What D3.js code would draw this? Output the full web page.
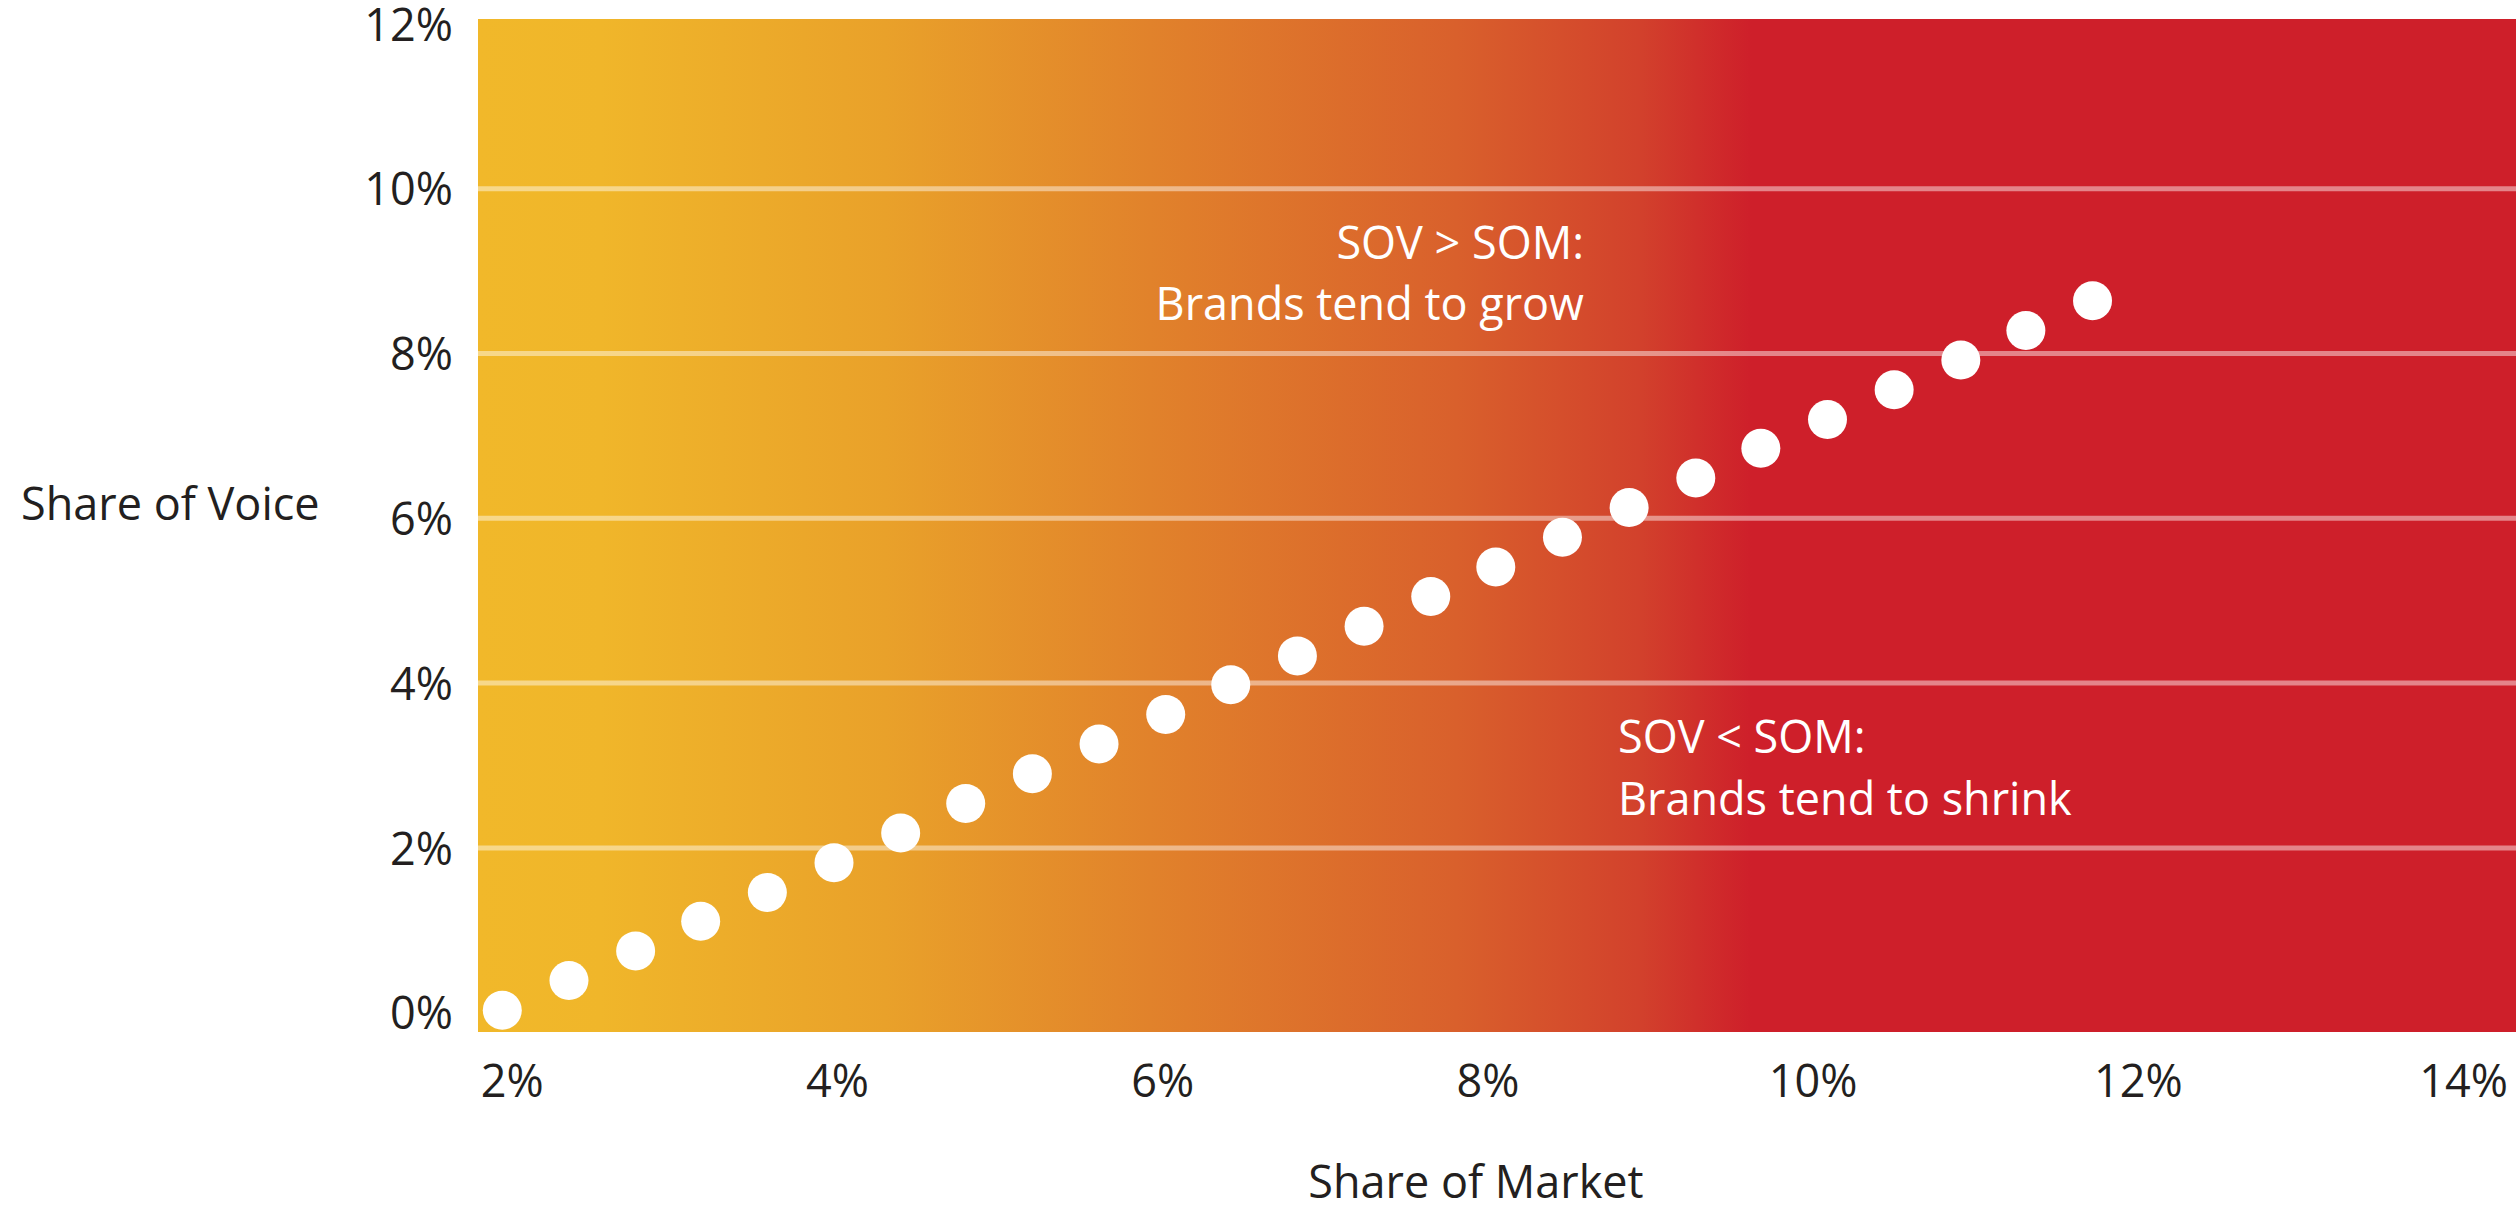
<!DOCTYPE html>
<html>
<head>
<meta charset="utf-8">
<script src="https://cdn.jsdelivr.net/npm/d3@7/dist/d3.min.js"></script>
<style>
  html, body { margin: 0; padding: 0; background: #ffffff; }
  svg { display: block; }
  text { font-family: "Open Sans", "Noto Sans", sans-serif; fill: #231f20; }
</style>
</head>
<body>
<svg id="chart" width="2516" height="1209"></svg>
<script>
// ---- data ----
const shareOfMarket = [2.00, 2.41, 2.82, 3.22, 3.63, 4.04, 4.45, 4.85, 5.26, 5.67, 6.08, 6.48, 6.89,
                       7.30, 7.71, 8.11, 8.52, 8.93, 9.34, 9.74, 10.15, 10.56, 10.97, 11.37, 11.78];
const shareOfVoice  = [0.03, 0.39, 0.75, 1.11, 1.46, 1.82, 2.18, 2.54, 2.90, 3.26, 3.62, 3.98, 4.33,
                       4.69, 5.05, 5.41, 5.77, 6.13, 6.49, 6.85, 7.20, 7.56, 7.92, 8.28, 8.64];
const xTicks = [2, 4, 6, 8, 10, 12, 14];
const yTicks = [0, 2, 4, 6, 8, 10, 12];
const gridValues = [2, 4, 6, 8, 10];
const xAxisTitle = "Share of Market";
const yAxisTitle = "Share of Voice";
const noteGrow = ["SOV > SOM:", "Brands tend to grow"];
const noteShrink = ["SOV < SOM:", "Brands tend to shrink"];

// ---- layout ----
const svg = d3.select("#chart");
const plot = { left: 478, right: 2516, top: 19, bottom: 1032 };
const x = d3.scaleLinear().domain([2, 14]).range([502.3, 2453.5]);
const y = d3.scaleLinear().domain([0, 12]).range([1012.7, 23.9]);
const fmt = d => d + "%";

// gradient background
const defs = svg.append("defs");
const grad = defs.append("linearGradient").attr("id", "bg")
  .attr("gradientUnits", "userSpaceOnUse")
  .attr("x1", plot.left).attr("x2", plot.right).attr("y1", 0).attr("y2", 0);
[
  [0.00, "#f1b82a"],
  [0.06, "#f0b62a"],
  [0.20, "#e9a12a"],
  [0.33, "#e1822b"],
  [0.48, "#d9602c"],
  [0.57, "#d2412c"],
  [0.625, "#ce1f2a"],
  [1.00, "#ce1f2a"]
].forEach(([o, c]) => grad.append("stop").attr("offset", o).attr("stop-color", c));

svg.append("rect")
  .attr("x", plot.left).attr("y", plot.top)
  .attr("width", plot.right - plot.left).attr("height", plot.bottom - plot.top)
  .attr("fill", "url(#bg)");

// gridlines
svg.append("g").selectAll("line").data(gridValues).join("line")
  .attr("x1", plot.left).attr("x2", plot.right)
  .attr("y1", d => y(d)).attr("y2", d => y(d))
  .attr("stroke", "#ffffff").attr("stroke-opacity", 0.45).attr("stroke-width", 5);

// axes
const yAxis = svg.append("g")
  .attr("transform", "translate(453,0)")
  .call(d3.axisLeft(y).tickValues(yTicks).tickFormat(fmt).tickSize(0).tickPadding(0));
yAxis.select(".domain").remove();
yAxis.selectAll("text").attr("dy", "0.36em").style("font-size", "45px").attr("fill", "#231f20")
  .style("font-family", '"Open Sans", sans-serif');

const xAxis = svg.append("g")
  .attr("transform", "translate(9.5,1081)")
  .call(d3.axisBottom(x).tickValues(xTicks).tickFormat(fmt).tickSize(0).tickPadding(0));
xAxis.select(".domain").remove();
xAxis.selectAll("text").attr("dy", "0.35em").style("font-size", "45px").attr("fill", "#231f20")
  .style("font-family", '"Open Sans", sans-serif');

// axis titles
svg.append("text").attr("x", 21).attr("y", 520)
  .style("font-size", "45px").text(yAxisTitle);
svg.append("text").attr("x", 1476).attr("y", 1198).attr("text-anchor", "middle")
  .style("font-size", "45px").text(xAxisTitle);

// dots
const pts = shareOfMarket.map((d, i) => ({ som: d, sov: shareOfVoice[i] }));
svg.append("g").selectAll("circle").data(pts).join("circle")
  .attr("cx", d => x(d.som)).attr("cy", d => y(d.sov)).attr("r", 19.5)
  .attr("fill", "#ffffff");

// annotations
const g1 = svg.append("text").attr("text-anchor", "end").style("font-size", "45px");
g1.selectAll("tspan").data(noteGrow).join("tspan")
  .attr("x", 1584).attr("y", (d, i) => 259 + i * 61)
  .style("fill", "#ffffff").text(d => d);
const g2 = svg.append("text").attr("text-anchor", "start").style("font-size", "45px");
g2.selectAll("tspan").data(noteShrink).join("tspan")
  .attr("x", 1618).attr("y", (d, i) => 753 + i * 62)
  .style("fill", "#ffffff").text(d => d);
</script>
</body>
</html>
